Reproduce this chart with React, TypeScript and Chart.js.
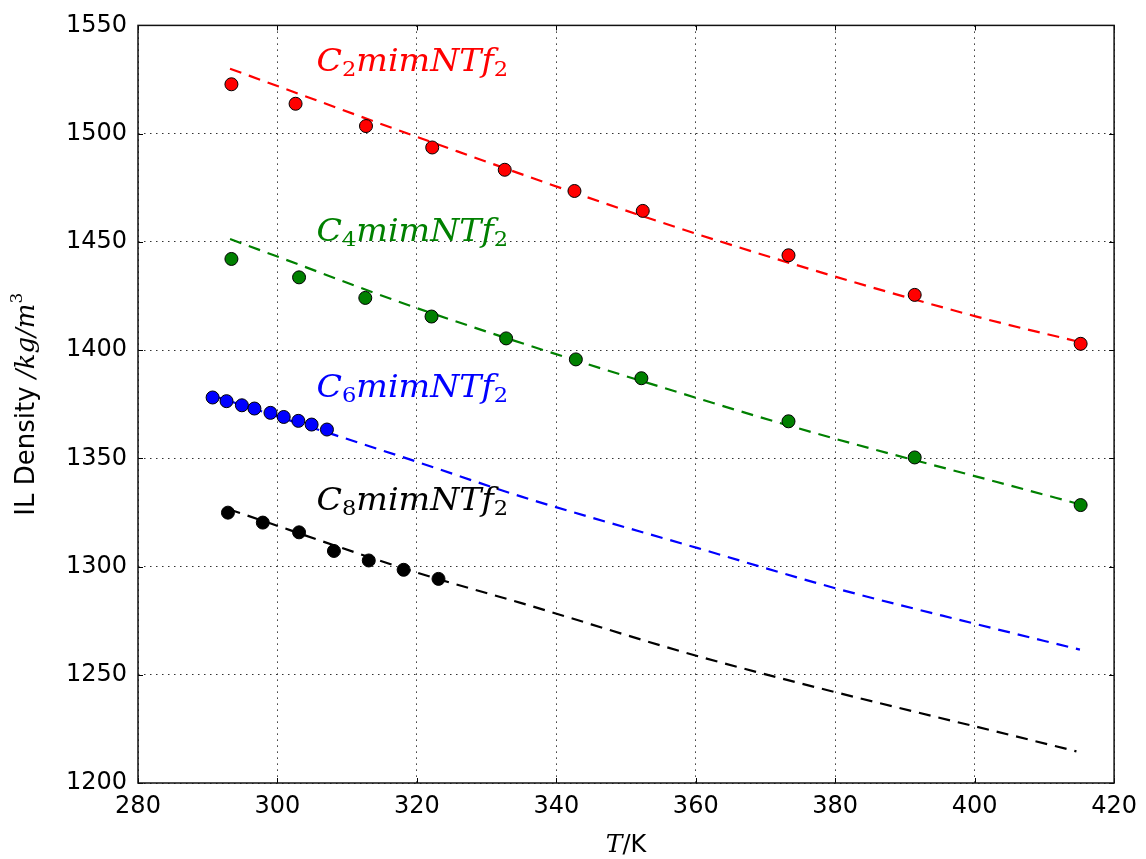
import React, { useEffect, useRef } from 'react';
import { Chart, registerables } from 'chart.js';
Chart.register(...registerables);

// ---- data ----
const c2T = [293.4, 302.6, 312.7, 322.2, 332.6, 342.6, 352.4, 373.3, 391.4, 415.2];
const c2Rho = [1522.8, 1513.8, 1503.5, 1493.6, 1483.3, 1473.5, 1464.3, 1443.8, 1425.5, 1402.9];
const c4T = [293.4, 303.1, 312.6, 322.1, 332.8, 342.8, 352.2, 373.3, 391.4, 415.2];
const c4Rho = [1442.1, 1433.6, 1424.1, 1415.5, 1405.4, 1395.7, 1387.0, 1367.1, 1350.4, 1328.4];
const c6T = [290.7, 292.7, 294.9, 296.7, 299.0, 300.9, 303.0, 304.9, 307.1];
const c6Rho = [1378.1, 1376.4, 1374.5, 1373.0, 1371.0, 1369.1, 1367.3, 1365.6, 1363.3];
const c8T = [292.9, 297.9, 303.1, 308.1, 313.1, 318.1, 323.1];
const c8Rho = [1324.9, 1320.3, 1315.8, 1307.2, 1302.8, 1298.5, 1294.3];

// model (dashed) curves
const c2FitT = [293.2, 300, 320, 360, 400, 415.0];
const c2FitRho = [1530.0, 1522.0, 1498.5, 1453.8, 1415.7, 1403.8];
const c4FitT = [293.2, 300, 320, 361.2, 379.8, 400, 414.6];
const c4FitRho = [1451.3, 1443.2, 1419.4, 1376.8, 1359.2, 1341.8, 1329.2];
const c6FitT = [290.7, 308.3, 320, 335, 360.3, 380, 400, 415.1];
const c6FitRho = [1379.0, 1360.7, 1348.4, 1332.3, 1308.5, 1290.0, 1273.6, 1261.6];
const c8FitT = [293.0, 320, 335, 361.2, 414.6];
const c8FitRho = [1326.5, 1297.2, 1283.1, 1257.8, 1214.6];

const seriesColors = ['#ff0000', '#008000', '#0000ff', '#000000'];
const seriesSub = ['2', '4', '6', '8'];
const labelT = [305.6, 305.6, 305.6, 305.6];
const labelRho = [1529.0, 1450.6, 1378.3, 1326.1];
const labelEndT = 333.1;

const xTickValues = [280, 300, 320, 340, 360, 380, 400, 420];
const yTickValues = [1200, 1250, 1300, 1350, 1400, 1450, 1500, 1550];

const pts = (xs: number[], ys: number[]) => xs.map((x, i) => ({ x, y: ys[i] }));

type Part = { t: string; font: string; dy?: number };

function measureParts(ctx: CanvasRenderingContext2D, parts: Part[]) {
  let w = 0;
  for (const p of parts) {
    ctx.font = p.font;
    w += ctx.measureText(p.t).width;
  }
  return w;
}
function drawParts(ctx: CanvasRenderingContext2D, parts: Part[], x: number, y: number, scaleX = 1) {
  let cx = x;
  for (const p of parts) {
    ctx.font = p.font;
    const w = ctx.measureText(p.t).width;
    ctx.save();
    ctx.translate(cx, y + (p.dy || 0));
    ctx.scale(scaleX, 1);
    ctx.fillText(p.t, 0, 0);
    ctx.restore();
    cx += w * scaleX;
  }
}

const SANS = '"DejaVu Sans", sans-serif';
const SERIF_I = 'italic 31px "DejaVu Serif", serif';
const SERIF_SUB = '21px "DejaVu Serif", serif';

const overlay = {
  id: 'overlay',
  afterDraw(chart: any) {
    const ctx: CanvasRenderingContext2D = chart.ctx;
    const { left, right, top, bottom } = chart.chartArea;
    const xs = chart.scales.x;
    const ys = chart.scales.y;
    ctx.save();
    // inner ticks
    ctx.strokeStyle = '#000';
    ctx.lineWidth = 1;
    ctx.beginPath();
    for (const v of xTickValues) {
      const px = Math.round(xs.getPixelForValue(v)) + 0.5;
      ctx.moveTo(px, bottom); ctx.lineTo(px, bottom - 5);
      ctx.moveTo(px, top); ctx.lineTo(px, top + 5);
    }
    for (const v of yTickValues) {
      const py = Math.round(ys.getPixelForValue(v)) + 0.5;
      ctx.moveTo(left, py); ctx.lineTo(left + 5, py);
      ctx.moveTo(right, py); ctx.lineTo(right - 5, py);
    }
    ctx.stroke();
    // frame
    ctx.lineWidth = 1.5;
    ctx.strokeStyle = '#111';
    ctx.strokeRect(left, top, right - left, bottom - top);

    // series labels
    ctx.textBaseline = 'alphabetic';
    ctx.textAlign = 'left';
    for (let i = 0; i < 4; i++) {
      const parts: Part[] = [
        { t: 'C', font: SERIF_I },
        { t: seriesSub[i], font: SERIF_SUB, dy: 5 },
        { t: 'mimNTf', font: SERIF_I },
        { t: '2', font: SERIF_SUB, dy: 5 },
      ];
      const x0 = xs.getPixelForValue(labelT[i]);
      const x1 = xs.getPixelForValue(labelEndT);
      const w = measureParts(ctx, parts);
      ctx.fillStyle = seriesColors[i];
      drawParts(ctx, parts, x0, ys.getPixelForValue(labelRho[i]), (x1 - x0) / w);
    }

    // x title
    ctx.fillStyle = '#000';
    const xParts: Part[] = [
      { t: 'T', font: 'italic 25px "DejaVu Serif", serif' },
      { t: '/K', font: `24px ${SANS}` },
    ];
    const xw = measureParts(ctx, xParts);
    drawParts(ctx, xParts, (left + right) / 2 - xw / 2, 852);

    // y title
    const yParts: Part[] = [
      { t: 'IL Density ', font: `26px ${SANS}` },
      { t: '/kg/m', font: 'italic 26px "DejaVu Serif", serif' },
      { t: '3', font: '17px "DejaVu Serif", serif', dy: -12 },
    ];
    const yw = measureParts(ctx, yParts);
    ctx.translate(34, (top + bottom) / 2);
    ctx.rotate(-Math.PI / 2);
    drawParts(ctx, yParts, -yw / 2, 0);
    ctx.restore();
  },
};

export default function App() {
  const ref = useRef<HTMLCanvasElement | null>(null);
  useEffect(() => {
    if (!ref.current) return;
    const fitSets = [
      [c2FitT, c2FitRho], [c4FitT, c4FitRho], [c6FitT, c6FitRho], [c8FitT, c8FitRho],
    ];
    const ptSets = [[c2T, c2Rho], [c4T, c4Rho], [c6T, c6Rho], [c8T, c8Rho]];
    const datasets: any[] = [];
    fitSets.forEach((s, i) => {
      datasets.push({
        type: 'line',
        data: pts(s[0], s[1]),
        borderColor: seriesColors[i],
        borderWidth: 2.2,
        borderDash: [12, 8],
        pointRadius: 0,
        fill: false,
        cubicInterpolationMode: 'monotone',
        order: 2,
      });
    });
    ptSets.forEach((s, i) => {
      datasets.push({
        type: 'scatter',
        data: pts(s[0], s[1]),
        backgroundColor: seriesColors[i],
        borderColor: '#000',
        borderWidth: 1,
        pointRadius: 6.5,
        order: 1,
      });
    });
    const chart = new Chart(ref.current, {
      type: 'scatter',
      data: { datasets },
      plugins: [overlay],
      options: {
        animation: false,
        responsive: false,
        layout: { padding: { top: 24, right: 28, left: 0, bottom: 0 } },
        plugins: { legend: { display: false }, tooltip: { enabled: false } },
        scales: {
          x: {
            type: 'linear',
            min: 280,
            max: 420,
            afterBuildTicks: (s: any) => { s.ticks = xTickValues.map((v) => ({ value: v })); },
            afterFit: (s: any) => { s.height = 76; },
            ticks: { color: '#000', font: { family: SANS, size: 24 }, padding: 9, maxRotation: 0, callback: (v: any) => String(v) },
            grid: { color: '#333', lineWidth: 1, drawTicks: false },
            border: { display: false, dash: [1.5, 4.5] },
          },
          y: {
            type: 'linear',
            min: 1200,
            max: 1550,
            afterBuildTicks: (s: any) => { s.ticks = yTickValues.map((v) => ({ value: v })); },
            afterFit: (s: any) => { s.width = 138; },
            ticks: { color: '#000', font: { family: SANS, size: 24 }, padding: 11, callback: (v: any) => String(v) },
            grid: { color: '#333', lineWidth: 1, drawTicks: false },
            border: { display: false, dash: [1.5, 4.5] },
          },
        },
      },
    });
    return () => chart.destroy();
  }, []);
  return (
    <div style={{ position: 'absolute', left: 0, top: 0, width: 1146, height: 859, background: '#fff' }}>
      <canvas ref={ref} width={1146} height={859} />
    </div>
  );
}
